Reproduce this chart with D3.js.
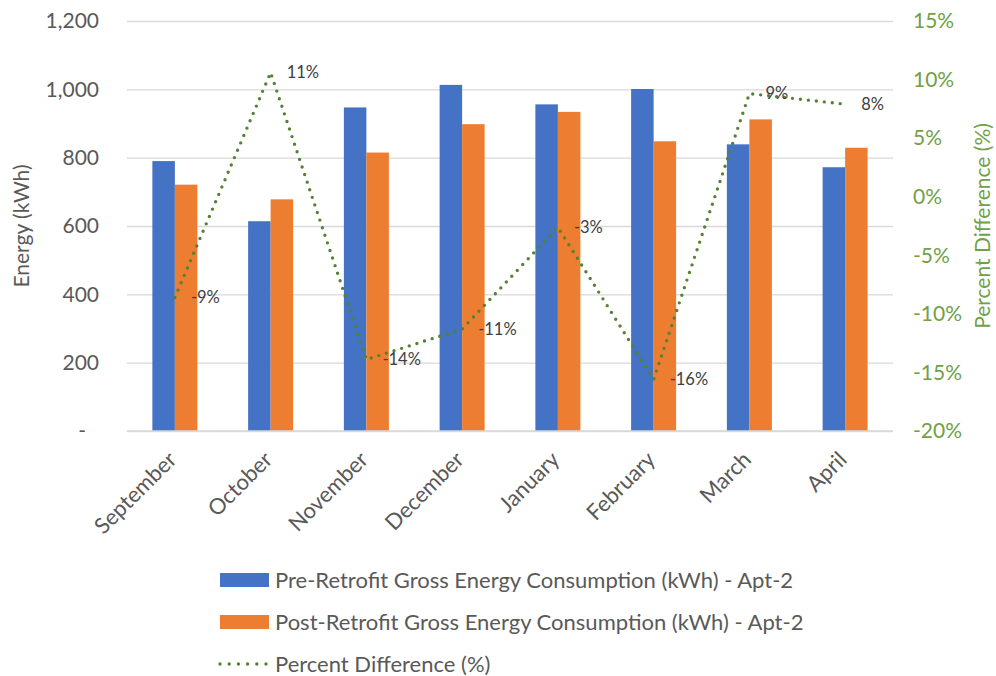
<!DOCTYPE html>
<html>
<head>
<meta charset="utf-8">
<script src="https://cdn.jsdelivr.net/npm/d3@7"></script>
<style>
	body { margin: 0; background: #fff; }
	svg text { font-family: Lato, "Liberation Sans", sans-serif; }
</style>
</head>
<body>
<svg id="chart" width="996" height="676"></svg>
<script>
(function() {
	'use strict';

	// data
	var months = ['September', 'October', 'November', 'December', 'January', 'February', 'March', 'April'];
	var preRetrofit = [790, 614, 947, 1013, 956, 1001, 839, 772];
	var postRetrofit = [721, 678, 815, 898, 934, 848, 912, 829];
	var percentDiff = [-8.6, 10.6, -13.9, -11.3, -2.6, -15.6, 8.8, 7.9];
	var energyTicks = [0, 200, 400, 600, 800, 1000, 1200];
	var percentTicks = [-20, -15, -10, -5, 0, 5, 10, 15];
	var seriesNames = [
		'Pre-Retrofit Gross Energy Consumption (kWh) - Apt-2',
		'Post-Retrofit Gross Energy Consumption (kWh) - Apt-2',
		'Percent Difference (%)'
	];

	var colors = {
		pre: '#4472C4',
		post: '#ED7D31',
		line: '#548235',
		green: '#70A047',
		grid: '#d9d9d9',
		text: '#595959'
	};

	var margin = { top: 21, right: 103, bottom: 245, left: 127 };
	var width = 996 - margin.left - margin.right;
	var height = 676 - margin.top - margin.bottom;

	var svg = d3.select('#chart');
	var g = svg.append('g').attr('transform', 'translate(' + margin.left + ',' + margin.top + ')');

	var x0 = d3.scaleBand().domain(months).range([0, width]).paddingInner(0.53).paddingOuter(0.265);
	var x1 = d3.scaleBand().domain(['pre', 'post']).range([0, x0.bandwidth()]);
	var y = d3.scaleLinear().domain([0, 1200]).range([height, 0]);
	var y2 = d3.scaleLinear().domain([-20, 15]).range([height, 0]);

	var rows = months.map(function(m, i) {
		return { month: m, pre: preRetrofit[i], post: postRetrofit[i], pct: percentDiff[i] };
	});

	// gridlines
	g.append('g')
		.call(d3.axisLeft(y).tickValues(energyTicks).tickSize(-width).tickFormat(''))
		.call(function(s) {
			s.select('.domain').remove();
			s.selectAll('line').attr('stroke', colors.grid).attr('stroke-width', 1.3);
		});

	// left axis
	var fmt = d3.format(',');
	g.append('g')
		.call(d3.axisLeft(y).tickValues(energyTicks).tickSize(0).tickPadding(28)
			.tickFormat(function(d) { return d === 0 ? '-' : fmt(d); }))
		.call(function(s) {
			s.select('.domain').remove();
			s.selectAll('text').attr('fill', colors.text).style('font-size', '21px')
				.attr('dx', function(d) { return d === 0 ? '-13px' : 0; });
		});

	// right axis
	g.append('g')
		.attr('transform', 'translate(' + width + ',0)')
		.call(d3.axisRight(y2).tickValues(percentTicks).tickSize(0).tickPadding(20)
			.tickFormat(function(d) { return d + '%'; }))
		.call(function(s) {
			s.select('.domain').remove();
			s.selectAll('text').attr('fill', colors.green).style('font-size', '21px');
		});

	// bars
	var groups = g.selectAll('.month')
		.data(rows)
		.enter().append('g')
		.attr('class', 'month')
		.attr('transform', function(d) { return 'translate(' + x0(d.month) + ',0)'; });

	groups.selectAll('rect')
		.data(function(d) { return [{ key: 'pre', v: d.pre }, { key: 'post', v: d.post }]; })
		.enter().append('rect')
		.attr('x', function(d) { return x1(d.key); })
		.attr('width', x1.bandwidth())
		.attr('y', function(d) { return y(d.v); })
		.attr('height', function(d) { return height - y(d.v); })
		.attr('fill', function(d) { return colors[d.key]; });

	// bottom axis line
	g.append('line')
		.attr('x1', 0).attr('x2', width)
		.attr('y1', height).attr('y2', height)
		.attr('stroke', colors.grid).attr('stroke-width', 1.3);

	// category labels
	g.selectAll('.cat')
		.data(months)
		.enter().append('text')
		.attr('class', 'cat')
		.attr('transform', function(d) {
			return 'translate(' + (x0(d) + x0.bandwidth() / 2 + 3) + ',' + (height + 30) + ') rotate(-45)';
		})
		.attr('text-anchor', 'end')
		.attr('fill', colors.text)
		.style('font-size', '22px')
		.text(function(d) { return d; });

	// percent line
	var cx = function(d) { return x0(d.month) + x0.bandwidth() / 2; };
	var line = d3.line().x(cx).y(function(d) { return y2(d.pct); });

	g.append('path')
		.datum(rows)
		.attr('d', line)
		.attr('fill', 'none')
		.attr('stroke', colors.line)
		.attr('stroke-width', 3.4)
		.attr('stroke-linecap', 'round')
		.attr('stroke-dasharray', '0 8');

	g.selectAll('.pct-label')
		.data(rows)
		.enter().append('text')
		.attr('class', 'pct-label')
		.attr('x', function(d) { return cx(d) + 16; })
		.attr('y', function(d) { return y2(d.pct); })
		.attr('dy', '0.35em')
		.attr('fill', '#404040')
		.style('font-size', '16.5px')
		.text(function(d) { return Math.round(d.pct) + '%'; });

	// axis titles
	svg.append('text')
		.attr('transform', 'translate(29,' + (margin.top + height / 2) + ') rotate(-90)')
		.attr('text-anchor', 'middle')
		.attr('fill', colors.text)
		.style('font-size', '21px')
		.text('Energy (kWh)');

	svg.append('text')
		.attr('transform', 'translate(990,' + (margin.top + height / 2) + ') rotate(-90)')
		.attr('text-anchor', 'middle')
		.attr('fill', colors.green)
		.style('font-size', '21px')
		.text('Percent Difference (%)');

	// legend
	var legend = svg.append('g').attr('transform', 'translate(220,580)');
	var legendItems = legend.selectAll('g')
		.data(seriesNames)
		.enter().append('g')
		.attr('transform', function(d, i) { return 'translate(0,' + (i * 42) + ')'; });

	legendItems.each(function(d, i) {
		var item = d3.select(this);
		if (i < 2) {
			item.append('rect')
				.attr('x', 0).attr('y', -7)
				.attr('width', 49).attr('height', 14)
				.attr('fill', i === 0 ? colors.pre : colors.post);
		} else {
			item.append('line')
				.attr('x1', 0).attr('x2', 47)
				.attr('stroke', colors.line)
				.attr('stroke-width', 3.4)
				.attr('stroke-linecap', 'round')
				.attr('stroke-dasharray', '0 9.2');
		}
	});

	legendItems.append('text')
		.attr('x', 55)
		.attr('dy', '0.35em')
		.attr('fill', colors.text)
		.style('font-size', '22px')
		.text(function(d) { return d; });
})();
</script>
</body>
</html>
